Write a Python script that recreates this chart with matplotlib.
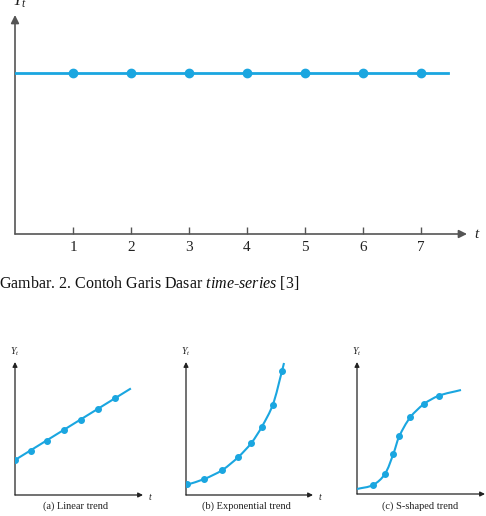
import numpy as np
import matplotlib
matplotlib.use("Agg")
import matplotlib.pyplot as plt
from matplotlib.path import Path
from matplotlib.patches import PathPatch

plt.rcParams['font.family'] = 'Liberation Serif'
plt.rcParams['mathtext.fontset'] = 'custom'
plt.rcParams['mathtext.rm'] = 'Liberation Serif'
plt.rcParams['mathtext.it'] = 'Liberation Serif:italic'

W, H = 486, 516
BLUE = '#1aa6e0'

# grafik atas: garis dasar
t_top = [1, 2, 3, 4, 5, 6, 7]
y_top = [161, 161, 161, 161, 161, 161, 161]
line_top_t = [0, 7.47]
line_top_y = [161, 161]

# (a) linear
a_t = [0, 16, 32, 49, 66, 83, 100]
a_y = [35, 44, 54, 65, 75, 86, 97]
a_line_t = [0, 115]
a_line_y = [35, 106]

# (b) eksponensial
b_t = [0.7, 18.3, 36.3, 52.3, 65.3, 75.7, 86.7, 96]
b_y = [11, 16, 25, 38, 52, 68, 90, 124]
b_curve_t = [0, 18.3, 36.3, 52.3, 65.3, 75.7, 86.7, 96, 98]
b_curve_y = [10, 16, 25, 38, 52, 68, 90, 124, 132]

# (c) S-shaped
c_t = [16, 27.7, 36.3, 42.3, 53.3, 67, 82]
c_y = [9, 19.7, 40, 57.7, 76.7, 90, 98.3]
c_curve_t = [0, 16, 27.7, 36.3, 42.3, 53.3, 67, 82, 104]
c_curve_y = [5, 9, 19.7, 40, 57.7, 76.7, 90, 98.3, 104]


def box(x0, y0, x1, y1):
    # piksel -> fraksi figure
    return [x0 / W, 1 - y1 / H, (x1 - x0) / W, (y1 - y0) / H]


def smooth_path(xs, ys):
    # kurva bezier lewat titik-titik (garis singgung ikut panjang segmen)
    pts = np.column_stack([xs, ys]).astype(float)
    n = len(pts)
    dirs = []
    for i in range(n):
        a = pts[max(i - 1, 0)]
        b = pts[min(i + 1, n - 1)]
        d = b - a
        dirs.append(d / np.hypot(*d))
    verts = [pts[0]]
    codes = [Path.MOVETO]
    for i in range(n - 1):
        seg = np.hypot(*(pts[i + 1] - pts[i])) / 3
        verts += [pts[i] + dirs[i] * seg, pts[i + 1] - dirs[i + 1] * seg, pts[i + 1]]
        codes += [Path.CURVE4] * 3
    return Path(verts, codes)


def setup(ax, xmax, ymax, color, lw, ms):
    ax.set_xlim(0, xmax)
    ax.set_ylim(0, ymax)
    for s in ax.spines.values():
        s.set_visible(False)
    ax.set_yticks([])
    ax.set_xticks([])
    ax.patch.set_alpha(0)
    for end in [(1, 0), (0, 1)]:
        ax.annotate('', xy=end, xytext=(0, 0), xycoords='axes fraction',
                    arrowprops=dict(arrowstyle='-|>', color=color, lw=lw,
                                    shrinkA=0, shrinkB=0, mutation_scale=ms))


fig = plt.figure(figsize=(W / 100, H / 100), dpi=100)

# grafik atas
ax = fig.add_axes(box(15, 15, 467, 234))
setup(ax, 452 / 58, 219, '#555555', 1.2, 12)
ax.plot(line_top_t, line_top_y, color=BLUE, lw=2, zorder=3)
ax.plot(t_top, y_top, 'o', color=BLUE, ms=6, zorder=4)
ax.set_xticks(t_top)
ax.set_xticklabels([str(v) for v in t_top])
ax.tick_params(axis='x', direction='in', length=5, width=1, color='#555555',
               labelsize=11, pad=5, labelcolor='#222222')
fig.text(12 / W, 1 - 6 / H, r'$Y_t$', fontsize=12, va='baseline', color='#222222')
fig.text(477 / W, 1 - 235 / H, r'$t$', fontsize=11, va='center', ha='center', color='#222222')

fig.text(-1 / W, 1 - 283 / H, r'Gambar. 2. Contoh Garis Dasar $\mathit{time}$-$\mathit{series}$ [3]',
         fontsize=11.5, va='center', ha='left', color='#111111')

# (a)
ax = fig.add_axes(box(15, 362, 143, 495))
setup(ax, 128, 133, '#222222', 0.9, 7)
ax.plot(a_line_t, a_line_y, color=BLUE, lw=1.5, zorder=3)
ax.plot(a_t, a_y, 'o', color=BLUE, ms=4, zorder=4)

# (b)
ax = fig.add_axes(box(186, 362, 313, 495))
setup(ax, 127, 133, '#222222', 0.9, 7)
ax.add_patch(PathPatch(smooth_path(b_curve_t, b_curve_y), fill=False, ec=BLUE, lw=1.5, zorder=3))
ax.plot(b_t, b_y, 'o', color=BLUE, ms=4, zorder=4)

# (c)
ax = fig.add_axes(box(357, 362, 485, 494))
setup(ax, 128, 132, '#222222', 0.9, 7)
ax.add_patch(PathPatch(smooth_path(c_curve_t, c_curve_y), fill=False, ec=BLUE, lw=1.5, zorder=3))
ax.plot(c_t, c_y, 'o', color=BLUE, ms=4, zorder=4)

for x, txt in [(15, '$Y_t$'), (186, '$Y_t$'), (357, '$Y_t$')]:
    fig.text(x / W, 1 - 352 / H, txt, fontsize=7, va='center', ha='center', color='#222222')
for x in [150, 320]:
    fig.text(x / W, 1 - 496 / H, '$t$', fontsize=7, va='center', ha='center', color='#222222')
for x, txt in [(76, '(a) Linear trend'), (246, '(b) Exponential trend'), (420, '(c) S-shaped trend')]:
    fig.text(x / W, 1 - 506 / H, txt, fontsize=7.5, va='center', ha='center', color='#222222')

fig.savefig('out.png', dpi=100)
